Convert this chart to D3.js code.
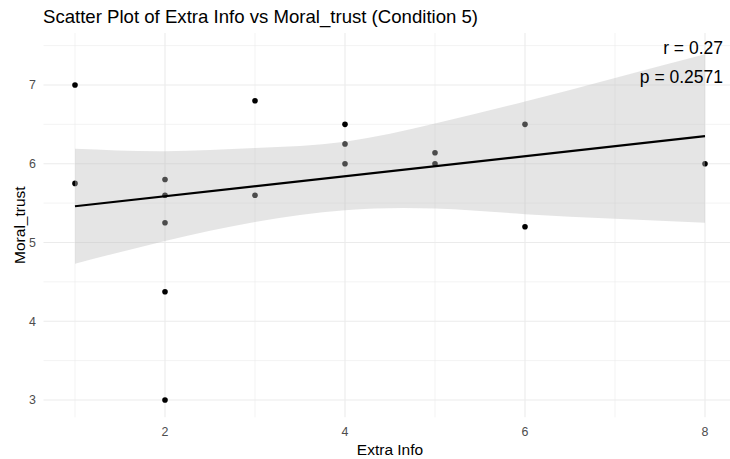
<!DOCTYPE html>
<html>
<head>
<meta charset="utf-8">
<script src="https://cdn.jsdelivr.net/npm/d3@7"></script>
<style>
  body { margin: 0; background: #fff; }
  svg { display: block; font-family: "Liberation Sans", Arial, sans-serif; }
</style>
</head>
<body>
<svg id="chart" width="730" height="459"></svg>
<script>
// observations (Extra Info, Moral_trust)
const extraInfo = [1, 1, 2, 2, 2, 2, 2, 3, 3, 4, 4, 4, 5, 5, 6, 6, 8];
const moralTrust = [7, 5.75, 5.8, 5.6, 5.25, 4.375, 3, 6.8, 5.6, 6.5, 6.25, 6, 6.14, 6, 6.5, 5.2, 6];

// linear fit and its confidence band
const fitX = [1, 8];
const fitY = [5.46, 6.35];
const bandX = [1, 2, 3, 4, 5, 6, 7, 8];
const bandLower = [4.73, 5.02, 5.26, 5.41, 5.43, 5.36, 5.3, 5.25];
const bandUpper = [6.19, 6.16, 6.2, 6.28, 6.51, 6.79, 7.09, 7.39];

const xMajor = [2, 4, 6, 8];
const xMinor = [1, 3, 5, 7];
const yMajor = [3, 4, 5, 6, 7];
const yMinor = [3.5, 4.5, 5.5, 6.5, 7.5];

const statLines = ["r = 0.27", "p = 0.2571"];

const svg = d3.select("#chart");
const panel = { left: 43.5, right: 736.5, top: 33, bottom: 417.3 };

const xScale = d3.scaleLinear().domain([0.65, 8.35]).range([panel.left, panel.right]);
const yScale = d3.scaleLinear().domain([2.78, 7.66]).range([panel.bottom, panel.top]);

//gridlines
const grid = svg.append("g").attr("stroke", "#ebebeb");
grid.selectAll(".vminor").data(xMinor).enter().append("line")
  .attr("x1", d => xScale(d)).attr("x2", d => xScale(d))
  .attr("y1", panel.top).attr("y2", panel.bottom).attr("stroke-width", 0.6);
grid.selectAll(".hminor").data(yMinor).enter().append("line")
  .attr("y1", d => yScale(d)).attr("y2", d => yScale(d))
  .attr("x1", panel.left).attr("x2", panel.right).attr("stroke-width", 0.6);
grid.selectAll(".vmajor").data(xMajor).enter().append("line")
  .attr("x1", d => xScale(d)).attr("x2", d => xScale(d))
  .attr("y1", panel.top).attr("y2", panel.bottom).attr("stroke-width", 1.1);
grid.selectAll(".hmajor").data(yMajor).enter().append("line")
  .attr("y1", d => yScale(d)).attr("y2", d => yScale(d))
  .attr("x1", panel.left).attr("x2", panel.right).attr("stroke-width", 1.1);

//points
svg.append("g").selectAll("circle")
  .data(extraInfo.map((x, i) => ({ x: x, y: moralTrust[i] })))
  .enter().append("circle")
  .attr("cx", d => xScale(d.x))
  .attr("cy", d => yScale(d.y))
  .attr("r", 2.8)
  .attr("fill", "#000");

//confidence band, drawn over the points
const band = d3.area()
  .x((d, i) => xScale(bandX[i]))
  .y0((d, i) => yScale(bandLower[i]))
  .y1((d, i) => yScale(bandUpper[i]))
  .curve(d3.curveNatural);
svg.append("path")
  .datum(bandX)
  .attr("d", band)
  .attr("fill", "#bfbfbf")
  .attr("fill-opacity", 0.4);

//fit line
const line = d3.line().x((d, i) => xScale(fitX[i])).y((d, i) => yScale(fitY[i]));
svg.append("path")
  .datum(fitX)
  .attr("d", line)
  .attr("fill", "none")
  .attr("stroke", "#000")
  .attr("stroke-width", 2.1);

//axis tick labels
svg.append("g").selectAll("text").data(xMajor).enter().append("text")
  .attr("x", d => xScale(d)).attr("y", 436)
  .attr("text-anchor", "middle")
  .attr("fill", "#4d4d4d").attr("font-size", 12.4)
  .text(d => d);
svg.append("g").selectAll("text").data(yMajor).enter().append("text")
  .attr("x", 36).attr("y", d => yScale(d) + 4.4)
  .attr("text-anchor", "end")
  .attr("fill", "#4d4d4d").attr("font-size", 12.4)
  .text(d => d);

//axis titles
svg.append("text")
  .attr("x", (panel.left + panel.right) / 2).attr("y", 455)
  .attr("text-anchor", "middle").attr("font-size", 15.5).attr("fill", "#000")
  .text("Extra Info");
svg.append("text")
  .attr("transform", `translate(${24.5},${(panel.top + panel.bottom) / 2}) rotate(-90)`)
  .attr("text-anchor", "middle").attr("font-size", 15.5).attr("fill", "#000")
  .text("Moral_trust");

//title
svg.append("text")
  .attr("x", 43).attr("y", 23.3)
  .attr("font-size", 18.6).attr("fill", "#000")
  .text("Scatter Plot of Extra Info vs Moral_trust (Condition 5)");

//stats annotation
svg.append("g").selectAll("text").data(statLines).enter().append("text")
  .attr("x", 723).attr("y", (d, i) => 54 + i * 28.5)
  .attr("text-anchor", "end")
  .attr("font-size", 17.5).attr("fill", "#000")
  .text(d => d);
</script>
</body>
</html>
